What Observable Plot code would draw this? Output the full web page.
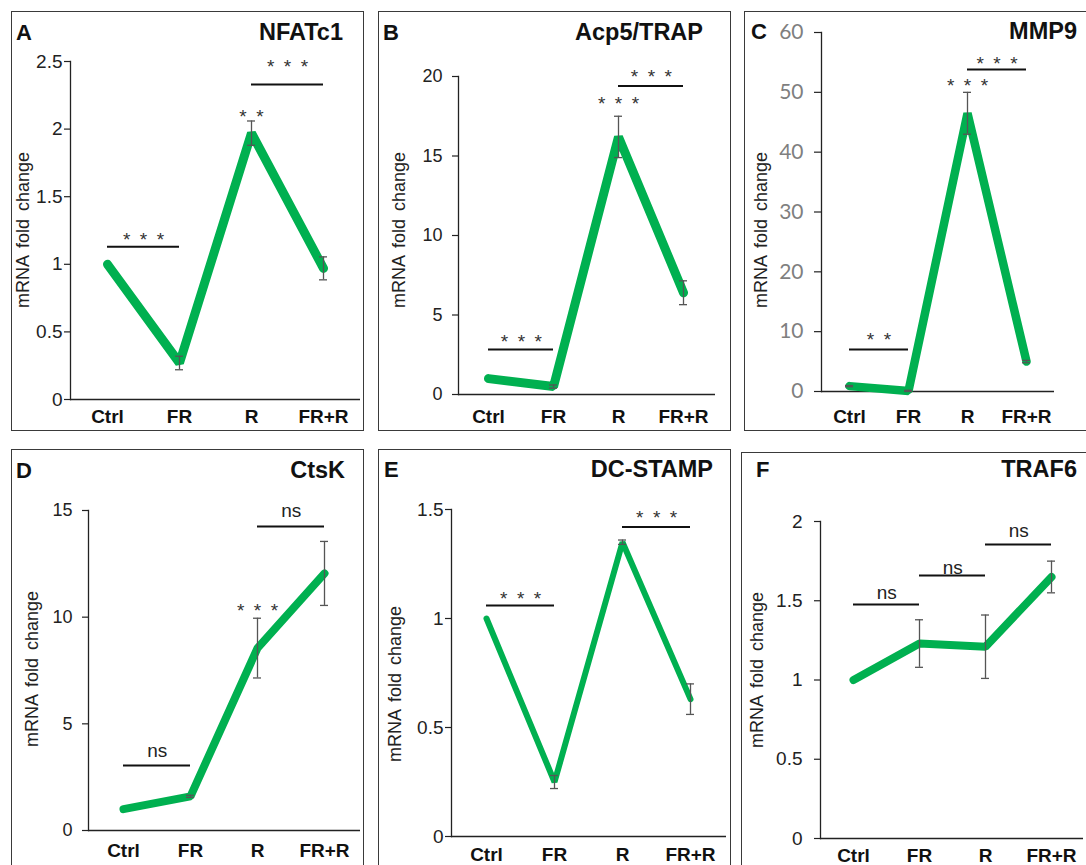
<!DOCTYPE html>
<html>
<head>
<meta charset="utf-8">
<script src="https://cdn.jsdelivr.net/npm/d3@7"></script>
<script src="https://cdn.jsdelivr.net/npm/@observablehq/plot@0.6"></script>
<style>
  html, body { margin: 0; padding: 0; background: #fff; }
  #root { position: relative; width: 1086px; height: 865px; overflow: hidden; font-family: Arial, "Liberation Sans", sans-serif; }
  .panel { position: absolute; }
  .panel svg { position: absolute; left: 0; top: 0; overflow: visible; }
  .border { position: absolute; left: 0; top: 0; box-sizing: border-box; border: 1.4px solid #3a3a3a; pointer-events: none; }
  .letter, .title { position: absolute; font-weight: bold; font-size: 22px; line-height: 1; color: #111; transform: translateY(-50%); white-space: nowrap; }
  .title { font-size: 23.5px; }
  .ylab { position: absolute; font-size: 18px; line-height: 1; color: #222; white-space: nowrap; word-spacing: 3px; transform: translate(-50%, -50%) rotate(-90deg); }
</style>
</head>
<body>
<div id="root"></div>
<script>
// ---------------- DATA ----------------
const categories = ["Ctrl", "FR", "R", "FR+R"];
const yLabelText = "mRNA fold change";

// A – NFATc1
const nfatc1Mean = [1.0, 0.27, 1.97, 0.97];
const nfatc1Err  = [0.0, 0.05, 0.09, 0.085];
const nfatc1Ticks = [0, 0.5, 1, 1.5, 2, 2.5];
const nfatc1Bars = [
  {from: "Ctrl", to: "FR", y: 1.13, labelY: 1.21, label: "*\u2002*\u2002*"},
  {from: "R", to: "FR+R", y: 2.33, labelY: 2.49, label: "*\u2002*\u2002*"}
];
const nfatc1Stars = [{cat: "R", y: 2.12, label: "*\u2002*"}];

// B – Acp5/TRAP
const trapMean = [1.0, 0.5, 16.2, 6.4];
const trapErr  = [0.0, 0.1, 1.3, 0.75];
const trapTicks = [0, 5, 10, 15, 20];
const trapBars = [
  {from: "Ctrl", to: "FR", y: 2.83, labelY: 3.58, label: "*\u2002*\u2002*"},
  {from: "R", to: "FR+R", y: 19.4, labelY: 20.2, label: "*\u2002*\u2002*"}
];
const trapStars = [{cat: "R", y: 18.5, label: "*\u2002*\u2002*"}];

// C – MMP9
const mmp9Mean = [0.9, 0.1, 46.5, 5.0];
const mmp9Err  = [0.1, 0.1, 3.5, 0.2];
const mmp9Ticks = [0, 10, 20, 30, 40, 50, 60];
const mmp9Bars = [
  {from: "Ctrl", to: "FR", y: 7.0, labelY: 9.36, label: "*\u2002*"},
  {from: "R", to: "FR+R", y: 53.8, labelY: 55.35, label: "*\u2002*\u2002*"}
];
const mmp9Stars = [{cat: "R", y: 51.7, label: "*\u2002*\u2002*"}];

// D – CtsK
const ctskMean = [1.0, 1.6, 8.55, 12.05];
const ctskErr  = [0.0, 0.05, 1.4, 1.5];
const ctskTicks = [0, 5, 10, 15];
const ctskBars = [
  {from: "Ctrl", to: "FR", y: 3.05, labelY: 3.75, label: "ns"},
  {from: "R", to: "FR+R", y: 14.25, labelY: 14.96, label: "ns"}
];
const ctskStars = [{cat: "R", y: 10.5, label: "*\u2002*\u2002*"}];

// E – DC-STAMP
const dcstampMean = [1.0, 0.25, 1.35, 0.63];
const dcstampErr  = [0.0, 0.03, 0.01, 0.07];
const dcstampTicks = [0, 0.5, 1, 1.5];
const dcstampBars = [
  {from: "Ctrl", to: "FR", y: 1.06, labelY: 1.11, label: "*\u2002*\u2002*"},
  {from: "R", to: "FR+R", y: 1.42, labelY: 1.48, label: "*\u2002*\u2002*"}
];
const dcstampStars = [];

// F – TRAF6
const traf6Mean = [1.0, 1.23, 1.21, 1.65];
const traf6Err  = [0.0, 0.15, 0.2, 0.1];
const traf6Ticks = [0, 0.5, 1, 1.5, 2];
const traf6Bars = [
  {from: "Ctrl", to: "FR", y: 1.476, labelY: 1.55, label: "ns"},
  {from: "FR", to: "R", y: 1.66, labelY: 1.71, label: "ns"},
  {from: "R", to: "FR+R", y: 1.855, labelY: 1.94, label: "ns"}
];
const traf6Stars = [];

const panels = [
  {id: "A", title: "NFATc1", mean: nfatc1Mean, err: nfatc1Err, ticks: nfatc1Ticks, bars: nfatc1Bars, stars: nfatc1Stars},
  {id: "B", title: "Acp5/TRAP", mean: trapMean, err: trapErr, ticks: trapTicks, bars: trapBars, stars: trapStars},
  {id: "C", title: "MMP9", mean: mmp9Mean, err: mmp9Err, ticks: mmp9Ticks, bars: mmp9Bars, stars: mmp9Stars},
  {id: "D", title: "CtsK", mean: ctskMean, err: ctskErr, ticks: ctskTicks, bars: ctskBars, stars: ctskStars},
  {id: "E", title: "DC-STAMP", mean: dcstampMean, err: dcstampErr, ticks: dcstampTicks, bars: dcstampBars, stars: dcstampStars},
  {id: "F", title: "TRAF6", mean: traf6Mean, err: traf6Err, ticks: traf6Ticks, bars: traf6Bars, stars: traf6Stars}
];

// ---------------- LAYOUT (page pixels) ----------------
const ARIAL = 'Arial, "Liberation Sans", sans-serif';
const layout = {
  A: {box: [11, 11, 364, 431], axisX: 70, xEnd: 360, y0: 399, yTop: 61, ptL: 107, ptR: 323, lw: 9, tick: 6, pad: 2, yFont: 19, yFill: "#222", yFamily: ARIAL, xPad: 10, ylab: [23, 230], letter: [16, 33], title: [343, 33]},
  B: {box: [378, 11, 731, 431], axisX: 458, xEnd: 715, y0: 394, yTop: 76, ptL: 487, ptR: 684, lw: 9, tick: 6, pad: 10, yFont: 18, yFill: "#222", yFamily: ARIAL, xPad: 15, ylab: [399, 230], letter: [383, 33], title: [703, 33]},
  C: {box: [744, 11, 1092, 431], axisX: 821, xEnd: 1054, y0: 391, yTop: 32, ptL: 849, ptR: 1026, lw: 8.5, tick: 7, pad: 11, yFont: 21, yFill: "#7f7f7f", yFamily: 'Lato, "Open Sans", sans-serif', xPad: 18, ylab: [761, 230], letter: [751, 32], title: [1077, 32]},
  D: {box: [11, 449, 364, 872], axisX: 88, xEnd: 360, y0: 830, yTop: 510, ptL: 122, ptR: 325, lw: 8, tick: 6, pad: 10, yFont: 18, yFill: "#222", yFamily: ARIAL, xPad: 13, ylab: [32, 669], letter: [16, 471], title: [345, 471]},
  E: {box: [378, 449, 731, 872], axisX: 451, xEnd: 726, y0: 836, yTop: 509, ptL: 485, ptR: 690, lw: 6, tick: 6, pad: 2, yFont: 19, yFill: "#222", yFamily: ARIAL, xPad: 11, ylab: [395, 684], letter: [384, 470], title: [713, 470]},
  F: {box: [741, 452, 1092, 872], axisX: 820, xEnd: 1083, y0: 838, yTop: 521, ptL: 852, ptR: 1051, lw: 8, tick: 6, pad: 12, yFont: 19, yFill: "#222", yFamily: ARIAL, xPad: 10, ylab: [757, 670], letter: [756, 470], title: [1077, 470]}
};
const GREEN = "#00b050";

const root = document.getElementById("root");

for (const p of panels) {
  const L = layout[p.id];
  const [bl, bt, br, bb] = L.box;
  const W = br - bl, H = bb - bt;
  const rows = categories.map((c, i) => ({cat: c, v: p.mean[i], lo: p.mean[i] - p.err[i], hi: p.mean[i] + p.err[i], e: p.err[i]}));
  const errRows = rows.filter(d => d.e > 0);
  const step = (L.ptR - L.ptL) / (categories.length - 1);
  const isStar = d => d.label.includes("*");

  const chart = Plot.plot({
    width: W,
    height: H,
    marginLeft: L.axisX - bl,
    marginRight: br - L.xEnd,
    marginTop: L.yTop - bt,
    marginBottom: bb - L.y0,
    style: {fontFamily: ARIAL, background: "transparent", overflow: "visible"},
    x: {type: "point", domain: categories, range: [L.ptL - bl, L.ptR - bl], padding: 0, label: null},
    y: {domain: [0, p.ticks[p.ticks.length - 1]], label: null},
    marks: [
      Plot.ruleY([0], {stroke: "#222", strokeWidth: 1.3}),
      Plot.frame({anchor: "left", stroke: "#222", strokeWidth: 1.3}),
      Plot.axisY({ticks: p.ticks, tickFormat: d => String(d), tickSize: L.tick, tickPadding: L.pad,
        fontSize: L.yFont, fontFamily: L.yFamily, fill: L.yFill, stroke: "#222", strokeWidth: 1.2, label: null}),
      Plot.axisX({tickSize: 0, tickPadding: L.xPad, fontSize: 19, fontWeight: "bold", fill: "#111", label: null}),
      Plot.line(rows, {x: "cat", y: "v", stroke: GREEN, strokeWidth: L.lw, strokeLinejoin: "miter", strokeLinecap: "round"}),
      Plot.ruleX(errRows, {x: "cat", y1: "lo", y2: "hi", stroke: "#555", strokeWidth: 1.3}),
      Plot.ruleY(errRows, {y: "lo", x1: "cat", x2: "cat", stroke: "#555", strokeWidth: 1.3, insetLeft: -4, insetRight: -4}),
      Plot.ruleY(errRows, {y: "hi", x1: "cat", x2: "cat", stroke: "#555", strokeWidth: 1.3, insetLeft: -4, insetRight: -4}),
      Plot.ruleY(p.bars, {y: "y", x1: "from", x2: "to", stroke: "#111", strokeWidth: 2}),
      Plot.text(p.bars.filter(isStar), {x: "from", y: "labelY", text: "label", dx: step / 2, dy: 4, fontSize: 19, fill: "#333"}),
      Plot.text(p.bars.filter(d => !isStar(d)), {x: "from", y: "labelY", text: "label", dx: step / 2, fontSize: 19, fill: "#222"}),
      Plot.text(p.stars, {x: "cat", y: "y", text: "label", dy: 4, fontSize: 19, fill: "#333"})
    ]
  });

  const div = document.createElement("div");
  div.className = "panel";
  div.style.left = bl + "px";
  div.style.top = bt + "px";
  div.style.width = W + "px";
  div.style.height = H + "px";
  div.appendChild(chart);
  const border = document.createElement("div");
  border.className = "border";
  border.style.width = W + "px";
  border.style.height = H + "px";
  div.appendChild(border);
  root.appendChild(div);

  const letter = document.createElement("div");
  letter.className = "letter";
  letter.textContent = p.id;
  letter.style.left = L.letter[0] + "px";
  letter.style.top = L.letter[1] + "px";
  root.appendChild(letter);

  const title = document.createElement("div");
  title.className = "title";
  title.textContent = p.title;
  title.style.right = (1086 - L.title[0]) + "px";
  title.style.top = L.title[1] + "px";
  root.appendChild(title);

  const yl = document.createElement("div");
  yl.className = "ylab";
  yl.textContent = yLabelText;
  yl.style.left = L.ylab[0] + "px";
  yl.style.top = L.ylab[1] + "px";
  root.appendChild(yl);
}
</script>
</body>
</html>
